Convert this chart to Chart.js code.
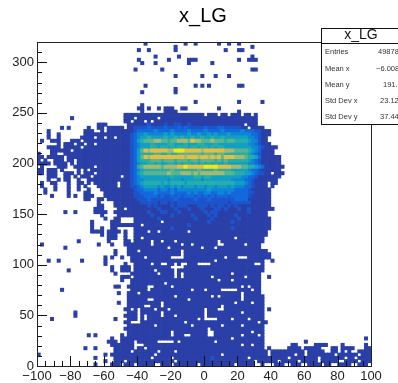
<!DOCTYPE html>
<html><head><meta charset="utf-8">
<style>html,body{margin:0;padding:0;background:#fff}canvas{display:block}</style>
<script src="https://cdn.jsdelivr.net/npm/chart.js@4"></script>
</head><body>
<canvas id="c" width="398" height="383"></canvas>
<script>
const chartTitle = "x_LG";
const statLabels = ["Entries","Mean x","Mean y","Std Dev x","Std Dev y"];
const statValues = ["49878","\u22126.008","191.","23.12","37.44"];
const xMajorTicks = [-100,-80,-60,-40,-20,0,20,40,60,80,100];
const xMinorTicks = [-95,-90,-85,-75,-70,-65,-55,-50,-45,-35,-30,-25,-15,-10,-5,5,10,15,25,30,35,45,50,55,65,70,75,85,90,95];
const yMajorTicks = [0,50,100,150,200,250,300];
const yMinorTicks = [10,20,30,40,60,70,80,90,110,120,130,140,160,170,180,190,210,220,230,240,260,270,280,290,310];
const levelColors = {"1":"#2b3fa8","2":"#1c54cc","3":"#1268dc","4":"#0e86d4","5":"#10a0c4","6":"#2aada8","7":"#5cb48c","8":"#a8b86c","9":"#e8bc3c","A":"#fbe40c"};
// occupied bins, top row first. "a-b" = run of lowest-level bins, "a:digits" = levels from bin a
const cellRows = [
"32 44 47 54 57 60",
"41 64",
"30 33 41 56 60-61",
"",
"35 42 64",
"30 39 45-47 60 63-65",
"31 35 45 52",
"",
"29 37 64-65",
"",
"41 49 53 57",
"","",
"32 47 49 51 60-61",
"41",
"31 41",
"","",
"47 60 67",
"31",
"30-31 33 36 38-40 43-44 54",
"31 38-41 60",
"26-49 51-53 55-56 58-60 62-63 65",
"10 26-28 30-35 37-65",
"26-27 29-31 33 35-65",
"18-20 27-61 63-65 33:2 38:2 41:22 45:2",
"7 9 15 18-19 21-25 27:112222322223222323222223222332222211.1111",
"3 14-16 19 21-25 26:11123333343333433334333343333433333433322111",
"3 6 14-25 26:11234454444454544445445445454445444444332111",
"3 6 13-16 18-19 21-22 24-25 26:1123455655556556565565565565565555555443211",
"1 4-6 10-12 14-25 26:1123567778877677888798877787776776666544211",
"6 8-10 12-13 15-16 18-25 26:11234555655556655565556655565555555554432111",
"3-6 8-12 14-25 26:1123455566566565666566566565665555555544321111",
"4-7 8-9 11-25 26:112357989999988AAA99999899999988877776543 1111".replace(" 1111","1111"),
"0 4-5 8-25 26:112356666776676677777776777677666666654321111",
"0-1 3-7 9-25 26:11235798999999999989998998989799988876653111111",
"0 2 5-7 9-10 12-25 26:11235666777677767776776777767676666665432111111",
"0-3 5-8 10 12-25 26:11234556656556656566565656565565555554432111111",
"1 6-8 11-16 18-25 26:112367888887888899A99999AAAA99998887766543111111",
"0-1 3-5 7 12 14 16-25 26:11234566666666766666667666676666555554332111111",
"0-1 3-5 8-10 12 14-16 18-25 26:11235677777778777888787888888877766655432211.111",
"3-5 8-9 11 13-15 17-24 26:11234555555555655555566566555555555443321111111",
"3 6 8-9 12 15-25 26:1123445555555455545555545555555544443321111111",
"1 4-5 9 12-13 15 17-23 25 26:1123456666656566665666666666666665554321111.11",
"1 5 9 12 14 18-23 25 26:1122345555454454545554554554555454443321111.1",
"2 5 9 12 15 19-25 26:11123344443443434444444445444444433332111111",
"2 9 14-15 20-25 26:11122333343333433334343344334434333332211111",
"4 9 11 14-16 20-25 26:11122233332322323233323232323332333332111111",
"14-15 18-19 21-25 26:11112223222222232222232223222222233331111111",
"18 23-25 26:11111222221221212222222222222221222222111111",
"18-19 23-25 26:11111112121111212221112221212212121111111111",
"17-19 24-25 27:1 28:1111111121111211121112111221211121121111111",
"8 11 17-20 23-68 33:2 37:22 42:2 50:2 52:22 63:2",
"19 24-68 34:2 40:2 46:2 51:2 53:2 59:2",
"20 23-24 29-69 36:2 47:2 52:2 60:2",
"16 22-24 29-36 38-69 51:2 58:2",
"16 22-30 32-69 45:2",
"16 19 22-23 29-69 40:2 58:2",
"16-19 21-24 26 29-32 34-35 37-44 46-68",
"19 21-23 26 29-68",
"21-23 26 29-30 32-58 60-67",
"12 21 26-27 29-33 35-36 38-40 42-53 55-67",
"1 18 22 26-33 35-42 44-45 47-53 56-61 63-66",
"8 27-38 40-48 50-52 54-66",
"23 27-29 31-42 44-68",
"23 27-42 44-69",
"20 22 25 28-31 33-39 44-55 57-59 63-69",
"3 6 13 20 28-52 54-67 70",
"20 26 29-33 35-36 39-40 42 45-47 52-64 67",
"22 25-27 29-39 44-67",
"9 22 25-27 29-34 36-40 42-67",
"23 28-35 37-40 42 44-57 59-66",
"25-27 29-40 42 44-51 53-61 63-66 69",
"25 28-53 55-57 59-66",
"28-37 39-66",
"23-24 27-32 35-39 41-60 62 64-66",
"7 28-32 34-45 47-49 51-54 60-63 65-66",
"24 27-29 31-60 62-66",
"27-40 42-51 53 55-60 62-67",
"27-32 35-44 46-60 62-67",
"24 27-36 38-58 60-63 65-67",
"27-31 34-36 38-54 56-67",
"26-27 29 31-34 36-38 40-49 51-53 56-67 69",
"11 27-29 31-36 38-49 51-60 62-67",
"11 26-29 31 33-36 38-40 42-49 51-67",
"4 23 27-29 31 33-47 49 54-57 59-62 64-67",
"26-27 31-43 45-65 67-68",
"27-34 36-45 47-54 56-60 62-67",
"26-50 52-67",
"27-39 41-50 53-63 65-67",
"15 17 25 27-39 41-43 46-50 53-60 62-65 67",
"22 25-57 59-67 98",
"21-23 25-28 30-35 41 43-52 54-67 80",
"22-28 32-60 62-63 65-67 76-77 83-86 91 98",
"14 17 23-28 30-31 33-67 69 75-78 80-84 88-89 91-94 98-99",
"23-27 29-35 37-40 42-68 70-79 81-85 88-89 91 93 96-99",
"0 20 22-34 36-54 56-68 70-76 78-79 81-88 90-95 97-99",
"17 23-33 35-39 41-62 64-74 76-83 85-91 93-94 96-99 52:2",
"20 23-25 27-40 42-64 66-71 73-77 79-83 85-89 92-95 97-99",
"17 22-24 26-28 30-34 37-39 41-47 49-58 60-64 67 71-73 76-78 81-84 86-87 90-93 96-98"
];
const xBinWidth = 2, xOrigin = -100, yBinHeight = 3.2;
const levelOrder = "123456789A";

const cells = [];
cellRows.forEach((s, i) => {
  const r = cellRows.length - 1 - i, row = {};
  s.split(" ").filter(Boolean).forEach(t => {
    if (t.includes(":")) {
      const [a, d] = t.split(":");
      [...d].forEach((ch, k) => { if (ch !== ".") row[+a + k] = ch; else delete row[+a + k]; });
    } else {
      const [a, b] = t.split("-").map(Number);
      for (let c = a; c <= (b === undefined ? a : b); c++) row[c] = "1";
    }
  });
  Object.keys(row).forEach(c => { if (+c < 100) cells.push({x: xOrigin + (+c + 0.5) * xBinWidth, y: (r + 0.5) * yBinHeight, v: row[c]}); });
});
// brighter bins are painted last so that they are not covered by their neighbours
cells.sort((p, q) => levelOrder.indexOf(p.v) - levelOrder.indexOf(q.v));

const rootDecor = {
  id: "rootDecor",
  afterDatasetsDraw(chart) {
    const {ctx, chartArea: a, scales: {x, y}} = chart;
    ctx.save();
    ctx.strokeStyle = "#111"; ctx.lineWidth = 1;
    const line = (x1, y1, x2, y2) => { ctx.beginPath(); ctx.moveTo(x1, y1); ctx.lineTo(x2, y2); ctx.stroke(); };
    xMajorTicks.forEach(v => { const p = Math.round(x.getPixelForValue(v)) + 0.5; line(p, a.bottom, p, a.bottom - 10); });
    xMinorTicks.forEach(v => { const p = Math.round(x.getPixelForValue(v)) + 0.5; line(p, a.bottom, p, a.bottom - 5); });
    yMajorTicks.forEach(v => { const p = Math.round(y.getPixelForValue(v)) + 0.5; line(a.left, p, a.left + 10, p); });
    yMinorTicks.forEach(v => { const p = Math.round(y.getPixelForValue(v)) + 0.5; line(a.left, p, a.left + 5, p); });
    ctx.strokeStyle = "#222";
    ctx.strokeRect(a.left + 0.5, a.top + 0.5, a.right - a.left, a.bottom - a.top);

    ctx.fillStyle = "#000"; ctx.textBaseline = "middle"; ctx.textAlign = "center";
    ctx.font = "20px 'Liberation Sans', Arial, sans-serif";
    ctx.fillText(chartTitle, 203, 16);

    ctx.fillStyle = "#fff"; ctx.fillRect(321, 28, 78, 97);
    ctx.strokeStyle = "#111";
    ctx.strokeRect(321.5, 28.5, 78, 96);
    line(321, 43.5, 398, 43.5);
    ctx.fillStyle = "#111";
    ctx.font = "14px 'Liberation Sans', Arial, sans-serif";
    ctx.fillText(chartTitle, 361, 35.5);
    ctx.font = "7.5px 'Liberation Sans', Arial, sans-serif";
    ctx.fillStyle = "#333";
    ctx.textAlign = "left";
    const ys = [52, 69, 85, 101, 117], xs = [378, 376, 383, 380, 380];
    statLabels.forEach((t, i) => {
      ctx.fillText(t, 325, ys[i]);
      ctx.fillText(statValues[i], xs[i], ys[i]);
    });
    ctx.restore();
  }
};

new Chart(document.getElementById("c"), {
  type: "scatter",
  data: {datasets: [{
    data: cells,
    pointStyle: "rect",
    pointRadius: 2.85,
    pointHoverRadius: 2.85,
    pointBorderWidth: 0,
    pointBackgroundColor: ctx => levelColors[ctx.raw ? ctx.raw.v : "1"]
  }]},
  options: {
    responsive: false, animation: false,
    events: [],
    layout: {padding: {top: 42, right: 27, left: 0, bottom: 0}},
    plugins: {legend: {display: false}, title: {display: false}, tooltip: {enabled: false}},
    scales: {
      x: {
        type: "linear", min: -100, max: 100,
        grid: {display: false, drawTicks: false, tickLength: 0}, border: {display: false},
        afterFit: s => { s.height = 17; },
        ticks: {stepSize: 20, padding: 3, maxRotation: 0, autoSkip: false, color: "#222",
          font: {family: "'Liberation Sans', Arial, sans-serif", size: 13},
          callback: v => String(v).replace("-", "\u2212")}
      },
      y: {
        type: "linear", min: 0, max: 320,
        grid: {display: false, drawTicks: false, tickLength: 0}, border: {display: false},
        afterFit: s => { s.width = 37; },
        ticks: {stepSize: 50, includeBounds: false, padding: 3, color: "#222",
          font: {family: "'Liberation Sans', Arial, sans-serif", size: 13}}
      }
    }
  },
  plugins: [rootDecor]
});
</script>
</body></html>
